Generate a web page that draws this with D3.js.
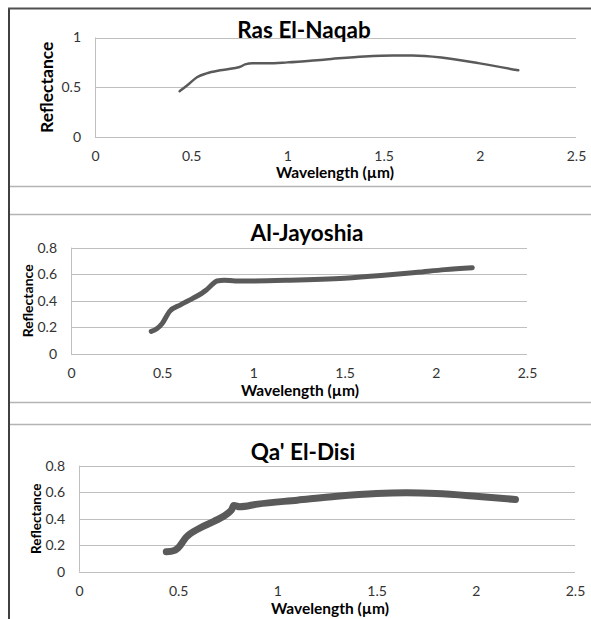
<!DOCTYPE html>
<html>
<head>
<meta charset="utf-8">
<script src="https://cdn.jsdelivr.net/npm/d3@7"></script>
<style>
  body { margin: 0; background: #fff; }
  svg { display: block; font-family: Lato, "Open Sans", sans-serif; }
</style>
</head>
<body>
<div id="chart"></div>
<script>
// Spectral reflectance curves for three sites

// Ras El-Naqab
const rasWavelength  = [0.44, 0.48, 0.53, 0.58, 0.65, 0.72, 0.76, 0.78, 0.82, 0.9, 1.0, 1.2, 1.4, 1.55, 1.65, 1.8, 2.0, 2.2];
const rasReflectance = [0.46, 0.52, 0.60, 0.64, 0.67, 0.69, 0.71, 0.73, 0.74, 0.74, 0.75, 0.78, 0.81, 0.82, 0.82, 0.80, 0.74, 0.67];

// Al-Jayoshia
const jayWavelength  = [0.44, 0.47, 0.50, 0.54, 0.60, 0.67, 0.74, 0.78, 0.80, 0.84, 0.9, 1.0, 1.2, 1.5, 1.7, 1.9, 2.05, 2.2];
const jayReflectance = [0.17, 0.19, 0.23, 0.32, 0.37, 0.42, 0.48, 0.53, 0.55, 0.555, 0.55, 0.55, 0.555, 0.57, 0.59, 0.615, 0.635, 0.65];

// Qa' El-Disi
const disiWavelength  = [0.44, 0.48, 0.50, 0.54, 0.61, 0.68, 0.75, 0.77, 0.78, 0.81, 0.9, 1.1, 1.3, 1.5, 1.65, 1.8, 2.0, 2.2];
const disiReflectance = [0.15, 0.16, 0.18, 0.26, 0.33, 0.38, 0.44, 0.47, 0.50, 0.49, 0.51, 0.54, 0.57, 0.59, 0.595, 0.59, 0.57, 0.545];

// Tick values
const xTicks = [0, 0.5, 1, 1.5, 2, 2.5];
const yTicksRas = [0, 0.5, 1];
const yTicksOther = [0, 0.2, 0.4, 0.6, 0.8];

const titles = ['Ras El-Naqab', 'Al-Jayoshia', "Qa' El-Disi"];
const xLabel = 'Wavelength (\u00b5m)';
const yLabel = 'Reflectance';

const W = 591, H = 619;
const svg = d3.select('#chart').append('svg')
  .attr('width', W)
  .attr('height', H);

// outer frame + panel separators
svg.append('line').attr('x1', 9).attr('x2', 9).attr('y1', 8).attr('y2', H)
  .attr('stroke', '#404040').attr('stroke-width', 2);
svg.append('line').attr('x1', 8).attr('x2', W).attr('y1', 8.5).attr('y2', 8.5)
  .attr('stroke', '#505050').attr('stroke-width', 2);
[186, 214, 402, 424].forEach(y => {
  svg.append('line').attr('x1', 10).attr('x2', W).attr('y1', y + 0.5).attr('y2', y + 0.5)
    .attr('stroke', '#b4b4b4').attr('stroke-width', 1.5);
});

// panel layouts
const panels = [
  { title: titles[0], xs: rasWavelength, ys: rasReflectance, yTicks: yTicksRas, yMax: 1,
    left: 95, right: 576, top: 37.5, bottom: 137, lineW: 2.5,
    titleY: 38, titleX: 304, titleSize: 22.5,
    yTitleX: 53, yTitleSize: 17.5, xTitleY: 178, xTitleX: 335, xTitleSize: 15.5, tickSize: 14 },
  { title: titles[1], xs: jayWavelength, ys: jayReflectance, yTicks: yTicksOther, yMax: 0.8,
    left: 71, right: 527, top: 247.7, bottom: 354, lineW: 5,
    titleY: 241, titleX: 307, titleSize: 22.5,
    yTitleX: 33, yTitleSize: 14, xTitleY: 396, xTitleX: 300, xTitleSize: 15.5, tickSize: 14 },
  { title: titles[2], xs: disiWavelength, ys: disiReflectance, yTicks: yTicksOther, yMax: 0.8,
    left: 79, right: 575, top: 465.7, bottom: 571.7, lineW: 7,
    titleY: 460, titleX: 303, titleSize: 22.5,
    yTitleX: 41, yTitleSize: 13.5, xTitleY: 614, xTitleX: 330, xTitleSize: 15.5, tickSize: 14 }
];

panels.forEach(p => {
  const x = d3.scaleLinear().domain([0, 2.5]).range([p.left, p.right]);
  const y = d3.scaleLinear().domain([0, p.yMax]).range([p.bottom, p.top]);
  const g = svg.append('g');

  // gridlines
  g.selectAll('.grid')
    .data(p.yTicks)
    .join('line')
      .attr('class', 'grid')
      .attr('x1', p.left).attr('x2', p.right)
      .attr('y1', d => Math.round(y(d)) + 0.5).attr('y2', d => Math.round(y(d)) + 0.5)
      .attr('stroke', '#bfbfbf').attr('stroke-width', 1);

  // y axis labels
  const yAxis = g.append('g')
    .attr('transform', `translate(${p.left - 9},0)`)
    .call(d3.axisLeft(y).tickValues(p.yTicks).tickSize(0).tickPadding(5)
      .tickFormat(d => d3.format('')(+d.toFixed(2))));
  yAxis.select('.domain').remove();
  yAxis.selectAll('text').attr('font-size', p.tickSize).attr('fill', '#333')
    .attr('font-family', 'Lato, sans-serif');

  // x axis labels
  const xAxis = g.append('g')
    .attr('transform', `translate(0,${p.bottom + 9})`)
    .call(d3.axisBottom(x).tickValues(xTicks).tickSize(0).tickPadding(5)
      .tickFormat(d => d3.format('')(d)));
  xAxis.select('.domain').remove();
  xAxis.selectAll('text').attr('font-size', p.tickSize).attr('fill', '#333')
    .attr('font-family', 'Lato, sans-serif');

  // left axis line
  g.append('line')
    .attr('x1', p.left + 0.5).attr('x2', p.left + 0.5)
    .attr('y1', y(0)).attr('y2', y(p.yMax))
    .attr('stroke', '#bfbfbf');

  // curve
  const pts = p.xs.map((d, i) => [d, p.ys[i]]);
  g.append('path')
    .datum(pts)
    .attr('fill', 'none')
    .attr('stroke', '#5a5a5a')
    .attr('stroke-width', p.lineW)
    .attr('stroke-linecap', 'round')
    .attr('stroke-linejoin', 'round')
    .attr('d', d3.line().x(d => x(d[0])).y(d => y(d[1])).curve(d3.curveMonotoneX));

  // titles
  g.append('text')
    .attr('x', p.titleX).attr('y', p.titleY)
    .attr('text-anchor', 'middle')
    .attr('font-size', p.titleSize).attr('font-weight', 'bold')
    .text(p.title);
  g.append('text')
    .attr('x', p.xTitleX).attr('y', p.xTitleY)
    .attr('text-anchor', 'middle')
    .attr('font-size', p.xTitleSize).attr('font-weight', 'bold')
    .text(xLabel);
  g.append('text')
    .attr('transform', `translate(${p.yTitleX},${(p.top + p.bottom) / 2}) rotate(-90)`)
    .attr('text-anchor', 'middle')
    .attr('font-size', p.yTitleSize).attr('font-weight', 'bold')
    .text(yLabel);
});
</script>
</body>
</html>
